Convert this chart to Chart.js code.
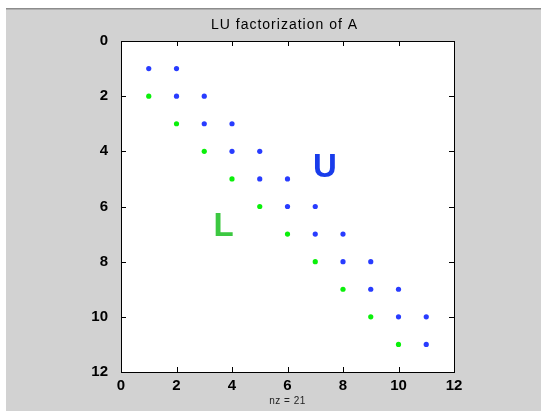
<!DOCTYPE html>
<html>
<head>
<meta charset="utf-8">
<script src="https://cdn.jsdelivr.net/npm/chart.js@4/dist/chart.umd.min.js"></script>
<style>
  html, body { margin: 0; padding: 0; background: #fff; }
  #wrap { width: 541px; height: 411px; }
</style>
</head>
<body>
<div id="wrap"><canvas id="c" width="541" height="411"></canvas></div>
<script>
// nonzeros of U (upper bidiagonal) and L (strict lower part), as [column, row]
const uCols = [1, 2, 2, 3, 3, 4, 4, 5, 5, 6, 6, 7, 7, 8, 8, 9, 9, 10, 10, 11, 11]
const uRows = [1, 1, 2, 2, 3, 3, 4, 4, 5, 5, 6, 6, 7, 7, 8, 8, 9, 9, 10, 10, 11]
const lCols = [1, 2, 3, 4, 5, 6, 7, 8, 9, 10]
const lRows = [2, 3, 4, 5, 6, 7, 8, 9, 10, 11]
const tickValues = [0, 2, 4, 6, 8, 10, 12]
const labels = [
  { text: 'U', x: 7.35, y: 4.6, color: 'rgb(25,60,235)' },
  { text: 'L', x: 3.7, y: 6.75, color: 'rgb(60,200,65)' }
]

const font = '"Liberation Sans", Arial, Helvetica, sans-serif'

const frame = {
  id: 'frame',
  beforeDraw (chart) {
    const ctx = chart.ctx
    const a = chart.chartArea
    ctx.save()
    ctx.fillStyle = '#fff'
    ctx.fillRect(0, 0, chart.width, chart.height)
    ctx.fillStyle = '#d2d2d2'
    ctx.fillRect(6, 9, chart.width - 6, chart.height - 9)
    ctx.fillStyle = '#8c8c8c'
    ctx.fillRect(6, 8, chart.width - 6, 1.5)
    ctx.fillStyle = '#fff'
    ctx.fillRect(a.left, a.top, a.right - a.left, a.bottom - a.top)
    ctx.restore()
  },
  afterDraw (chart) {
    const ctx = chart.ctx
    const a = chart.chartArea
    const xs = chart.scales.x
    const ys = chart.scales.y
    ctx.save()
    ctx.strokeStyle = '#000'
    ctx.lineWidth = 1
    ctx.beginPath()
    tickValues.forEach((v) => {
      const px = Math.round(xs.getPixelForValue(v)) + 0.5
      ctx.moveTo(px, a.bottom); ctx.lineTo(px, a.bottom - 5)
      ctx.moveTo(px, a.top); ctx.lineTo(px, a.top + 5)
      const py = Math.round(ys.getPixelForValue(v)) + 0.5
      ctx.moveTo(a.left, py); ctx.lineTo(a.left + 5, py)
      ctx.moveTo(a.right, py); ctx.lineTo(a.right - 5, py)
    })
    ctx.stroke()
    ctx.strokeRect(Math.round(a.left) + 0.5, Math.round(a.top) + 0.5,
      Math.round(a.right - a.left), Math.round(a.bottom - a.top))

    ctx.textAlign = 'center'
    ctx.textBaseline = 'middle'
    ctx.font = 'bold 33px ' + font
    labels.forEach((l) => {
      ctx.fillStyle = l.color
      ctx.fillText(l.text, xs.getPixelForValue(l.x), ys.getPixelForValue(l.y))
    })

    ctx.fillStyle = '#000'
    ctx.font = '14px ' + font
    ctx.letterSpacing = '1px'
    ctx.fillText('LU factorization of A', (a.left + a.right) / 2 - 3, 25)
    ctx.font = '10px ' + font
    ctx.letterSpacing = '0.5px'
    ctx.fillStyle = '#222'
    ctx.fillText('nz = 21', (a.left + a.right) / 2, 401)
    ctx.restore()
  }
}

const toPoints = (xs, ys) => xs.map((x, i) => ({ x: x, y: ys[i] }))

new Chart(document.getElementById('c').getContext('2d'), {
  type: 'scatter',
  data: {
    datasets: [
      {
        label: 'U',
        data: toPoints(uCols, uRows),
        pointRadius: 2.6,
        pointBorderWidth: 0,
        backgroundColor: 'rgb(40,60,255)'
      },
      {
        label: 'L',
        data: toPoints(lCols, lRows),
        pointRadius: 2.6,
        pointBorderWidth: 0,
        backgroundColor: 'rgb(10,240,10)'
      }
    ]
  },
  options: {
    responsive: false,
    animation: false,
    layout: { padding: { left: 0, right: 87, top: 41, bottom: 0 } },
    plugins: {
      legend: { display: false },
      tooltip: { enabled: false }
    },
    scales: {
      x: {
        type: 'linear',
        min: 0,
        max: 12,
        afterFit: (s) => { s.height = 39 },
        afterBuildTicks: (s) => { s.ticks = tickValues.map((v) => ({ value: v })) },
        grid: { display: false },
        border: { display: false },
        ticks: { color: '#000', padding: -3, maxRotation: 0, font: { family: font, size: 15, weight: 'bold' } }
      },
      y: {
        type: 'linear',
        reverse: true,
        min: 0,
        max: 12,
        afterFit: (s) => { s.width = 121 },
        afterBuildTicks: (s) => { s.ticks = tickValues.map((v) => ({ value: v })) },
        grid: { display: false },
        border: { display: false },
        ticks: { color: '#000', padding: 5, font: { family: font, size: 15, weight: 'bold' } }
      }
    }
  },
  plugins: [frame]
})
</script>
</body>
</html>
